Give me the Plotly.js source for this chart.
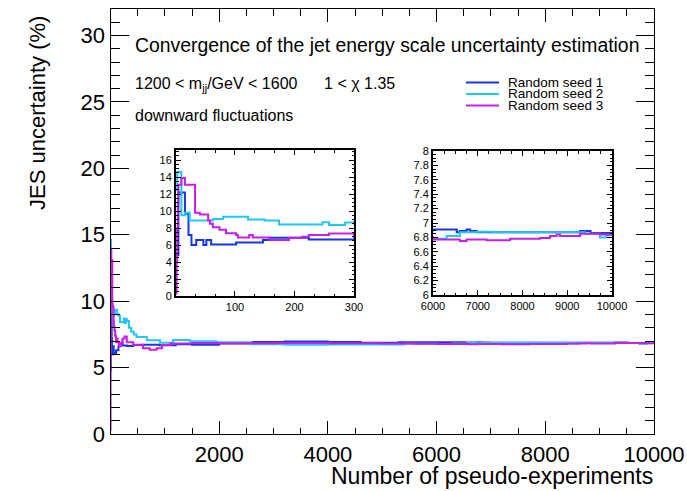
<!DOCTYPE html>
<html>
<head>
<meta charset="utf-8">
<script src="https://cdn.plot.ly/plotly-3.0.1.min.js"></script>
<style>
  html, body { margin: 0; padding: 0; background: #ffffff; }
  #chart { width: 687px; height: 491px; }
</style>
</head>
<body>
<div id="chart"></div>
<script>
// Running JES uncertainty estimate vs. number of pseudo-experiments,
// stored as step breakpoints: value holds from N[i] until N[i+1].
const seedNames  = ['Random seed 1', 'Random seed 2', 'Random seed 3'];
const seedColors = ['#1438e6', '#22c8f5', '#c81ee8'];

const seed1N = [1, 5, 16, 22, 27, 35, 47, 52, 60, 102, 147, 158, 224, 300, 420, 600, 900, 1200, 1500,
                2000, 2600, 3200, 4000, 4600, 5300, 6000, 6530, 6600, 6750, 6830, 6980, 9285, 9520, 10000];
const seed1V = [4.8, 12.2, 9.7, 7.2, 6.0, 6.6, 6.0, 6.6, 6.08, 6.3, 6.6, 6.85, 6.67, 6.62, 6.7, 6.72, 6.68, 6.76, 6.72,
                6.82, 6.92, 6.96, 6.92, 6.88, 6.9, 6.91, 6.87, 6.89, 6.91, 6.89, 6.87, 6.89, 6.86, 6.86];

const seed2N = [1, 3, 10, 16, 24, 63, 80, 122, 150, 174, 247, 258, 285, 300, 340, 380, 430, 480, 670, 910,
                1150, 1460, 1950, 2600, 3200, 4000, 4800, 5400, 6000, 6305, 6600, 6980, 7350, 9400, 9730, 9870, 10000];
const seed2V = [12.5, 14.6, 9.5, 9.8, 8.9, 9.06, 9.35, 9.0, 8.9, 8.43, 8.7, 8.35, 8.65, 8.5, 8.0, 7.7, 7.5, 7.3, 7.05, 6.88,
                7.08, 6.98, 6.9, 6.75, 6.72, 6.74, 6.73, 6.8, 6.78, 6.82, 6.87, 6.88, 6.87, 6.85, 6.8, 6.83, 6.83];

const seed3N = [1, 2, 3, 4, 5, 10, 16, 33, 41, 55, 58, 63, 74, 85, 102, 105, 124, 130, 158, 191, 213, 224, 258,
                300, 420, 600, 720, 850, 950, 1100, 1500, 2000, 3000, 4000, 5000, 5600, 6000, 6600, 6750,
                7200, 7720, 8390, 8615, 8764, 8838, 9285, 9733, 10000];
const seed3V = [0.3, 4, 8, 11, 13.1, 13.9, 13.1, 9.8, 9.6, 8.9, 8.5, 8.1, 7.8, 7.4, 7.2, 6.9, 7.2, 6.9, 6.6, 6.85, 6.97, 7.2, 7.35,
                6.9, 6.72, 6.45, 6.35, 6.45, 6.7, 6.82, 6.85, 6.83, 6.85, 6.83, 6.82, 6.8, 6.77, 6.75, 6.77,
                6.76, 6.78, 6.79, 6.82, 6.84, 6.82, 6.85, 6.84, 6.84];

const mainXTicks   = [2000, 4000, 6000, 8000, 10000];
const inset1XTicks = [100, 200, 300];
const inset2XTicks = [6000, 7000, 8000, 9000, 10000];

const seriesN = [seed1N, seed2N, seed3N];
const seriesV = [seed1V, seed2V, seed3V];

// page geometry (pixels) -> paper fractions
const W = 687, H = 491;
const fx = p => p / W;
const fy = p => 1 - p / H;

const FONT = 'Liberation Sans, Arial, Helvetica, sans-serif';

const traces = [];
const panels = [['x', 'y'], ['x2', 'y2'], ['x3', 'y3']];
panels.forEach(([xa, ya]) => {
  for (let s = 0; s < 3; s++) {
    traces.push({
      type: 'scatter', mode: 'lines',
      x: seriesN[s], y: seriesV[s],
      xaxis: xa, yaxis: ya,
      name: seedNames[s],
      line: { color: seedColors[s], width: 2, shape: 'hv' },
      showlegend: false, hoverinfo: 'skip'
    });
  }
});

function frameAxis(opts) {
  return Object.assign({
    showline: true, linecolor: '#000', linewidth: 1,
    mirror: 'allticks', ticks: 'inside', tickcolor: '#000', tickwidth: 1,
    showgrid: false, zeroline: false, fixedrange: true,
    tickfont: { family: FONT, size: 22, color: '#000' }
  }, opts);
}

const insetFont = { family: FONT, size: 11, color: '#000' };
const minorTicks = (dtick, len, tick0) => ({
  tickmode: 'linear', tick0: tick0 || 0, dtick, ticklen: len,
  ticks: 'inside', tickcolor: '#000', showgrid: false
});

const layout = {
  width: W, height: H,
  margin: { l: 0, r: 0, t: 0, b: 0 },
  paper_bgcolor: '#fff', plot_bgcolor: '#fff',
  showlegend: false,
  xaxis: frameAxis({
    domain: [fx(110.5), fx(654)], range: [0.5, 10000],
    tickmode: 'array', tickvals: mainXTicks, ticktext: mainXTicks.map(String), ticklen: 13,
    ticklabelstandoff: 1,
    minor: minorTicks(500, 6.5),
    anchor: 'y'
  }),
  yaxis: frameAxis({
    domain: [fy(434), fy(9)], range: [0, 32],
    tickmode: 'linear', tick0: 0, dtick: 5, ticklen: 18,
    minor: minorTicks(1, 9),
    anchor: 'x'
  }),
  xaxis2: frameAxis({
    domain: [fx(176), fx(354)], range: [1, 300], linewidth: 2,
    tickmode: 'array', tickvals: inset1XTicks, ticktext: inset1XTicks.map(String), ticklen: 5,
    minor: minorTicks(100 / 3, 2.5),
    tickfont: insetFont,
    anchor: 'y2'
  }),
  yaxis2: frameAxis({
    domain: [fy(296), fy(150)], range: [0, 17.2], linewidth: 2,
    tickmode: 'linear', tick0: 0, dtick: 2, ticklen: 5,
    minor: minorTicks(0.5, 2.5),
    tickfont: insetFont,
    anchor: 'x2'
  }),
  xaxis3: frameAxis({
    domain: [fx(433), fx(612)], range: [6000, 10000], linewidth: 2,
    tickmode: 'array', tickvals: inset2XTicks, ticktext: inset2XTicks.map(String), ticklen: 5,
    minor: minorTicks(250, 2.5),
    tickfont: insetFont,
    anchor: 'y3'
  }),
  yaxis3: frameAxis({
    domain: [fy(295), fy(151)], range: [6, 8], linewidth: 2,
    tickmode: 'linear', tick0: 6, dtick: 0.2, ticklen: 5,
    minor: minorTicks(0.05, 2.5, 6),
    tickfont: insetFont,
    anchor: 'x3'
  }),
  shapes: [],
  annotations: []
};

const ann = (text, x, y, size, extra) => Object.assign({
  text, x: fx(x), y: fy(y), xref: 'paper', yref: 'paper',
  xanchor: 'left', yanchor: 'middle', showarrow: false,
  font: { family: FONT, size, color: '#000' }
}, extra || {});

layout.annotations.push(
  ann('Convergence of the jet energy scale uncertainty estimation', 133, 45.5, 19.4),
  ann('1200 &lt; m<sub>jj</sub>/GeV &lt; 1600\u00a0\u00a0\u00a0\u00a0\u00a0\u00a01 &lt; \u03c7 1.35', 133, 85, 16),
  ann('downward fluctuations', 133, 115, 16),
  ann('JES uncertainty (%)', 37, 113, 22, { xanchor: 'center', textangle: -90 }),
  ann('Number of pseudo-experiments', 655, 476, 23, { xanchor: 'right' })
);

// legend keys
const legendY = [82.5, 94, 105.5];
for (let s = 0; s < 3; s++) {
  layout.shapes.push({
    type: 'line', xref: 'paper', yref: 'paper',
    x0: fx(466), x1: fx(499), y0: fy(legendY[s]), y1: fy(legendY[s]),
    line: { color: seedColors[s], width: 2 }
  });
  layout.annotations.push(ann(seedNames[s], 506, legendY[s], 13.5));
}

Plotly.newPlot('chart', traces, layout, { staticPlot: true, displayModeBar: false });
</script>
</body>
</html>
